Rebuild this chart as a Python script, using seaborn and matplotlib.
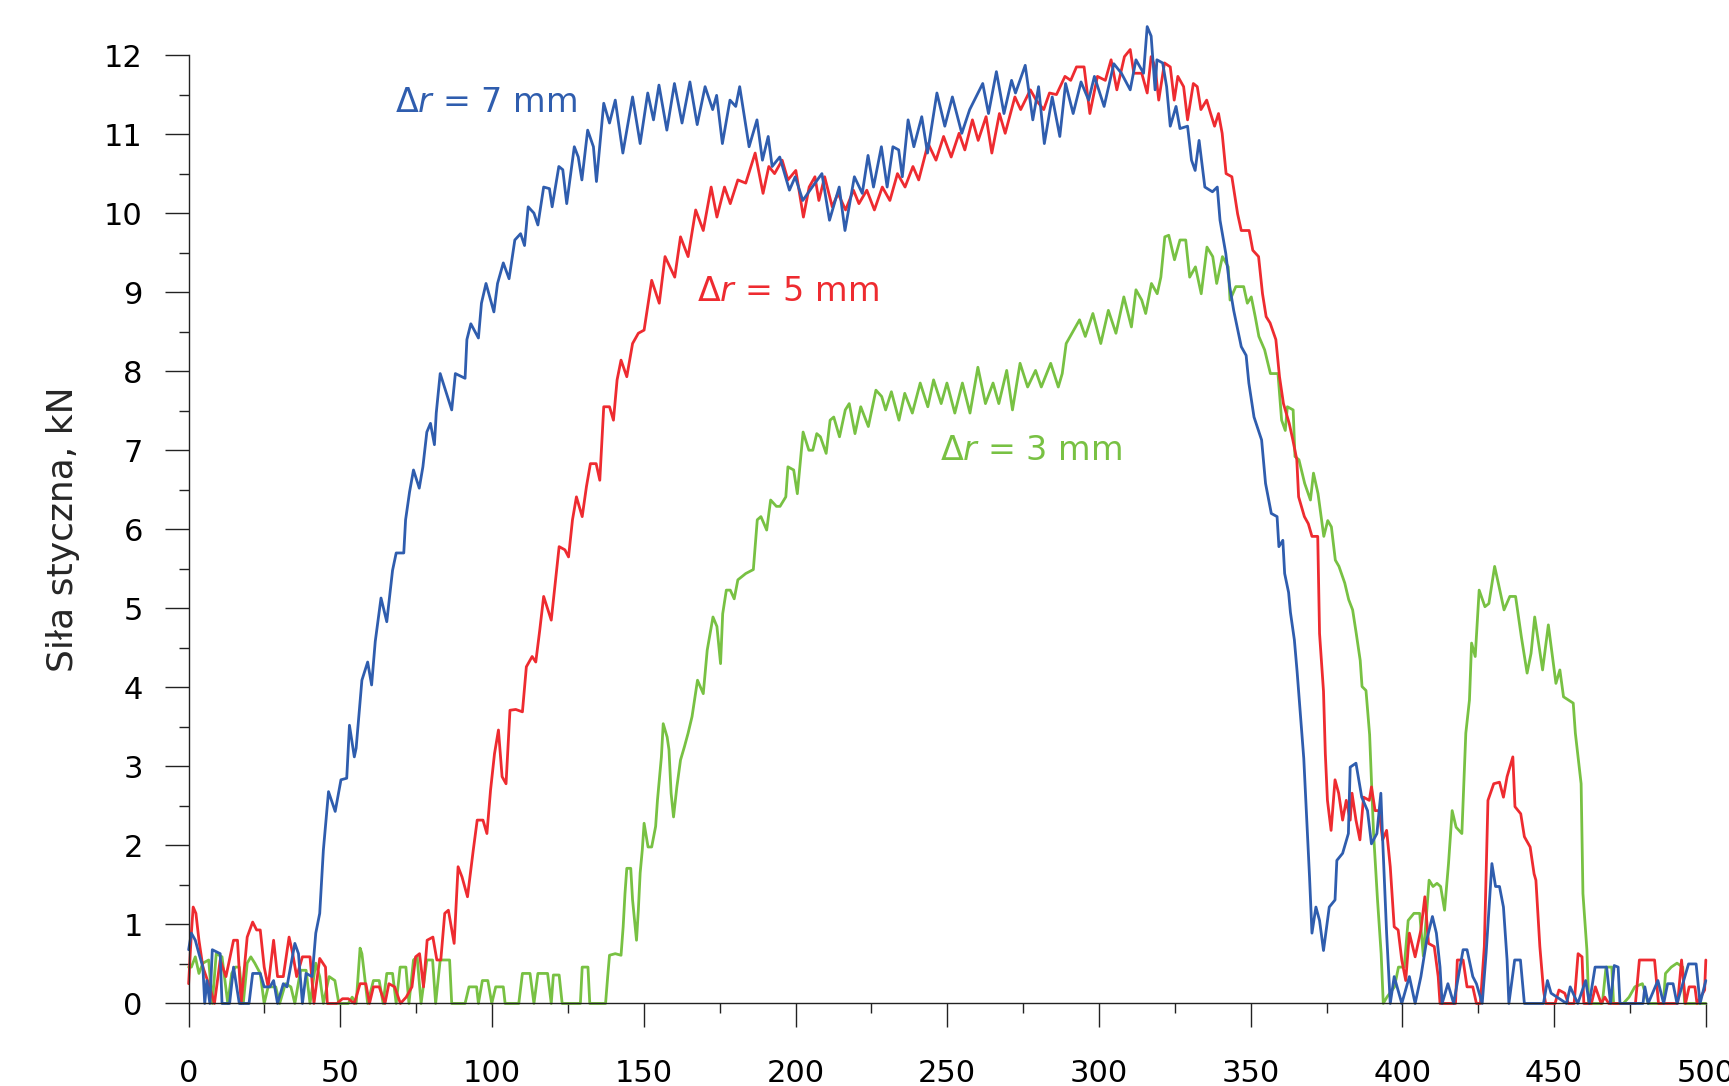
import numpy as np
import pandas as pd
import matplotlib
matplotlib.use('Agg')
import matplotlib.pyplot as plt
from matplotlib.ticker import MultipleLocator
import seaborn as sns

# ------------------------------------------------------------
# data (x in the original units, y in kN)
# ------------------------------------------------------------
blue_x = [0, 0.9, 2.2, 3.4, 4.7, 5.3, 6.0, 7.0, 7.8, 10.4, 11.0, 13.5, 14.8, 16.7, 19.9, 21.1, 23.6, 24.9,
          26.8, 28.0, 29.3, 31.2, 32.4, 35.0, 36.2, 37.5, 38.7, 40.7, 41.9, 43.2, 44.4, 46.1, 48.3, 50.2,
          52.1, 53.0, 54.6, 55.2, 57.1, 59.0, 60.3, 61.5, 63.4, 65.3, 67.2, 68.4, 70.9, 71.5, 72.8, 74.1,
          76.0, 77.2, 78.5, 79.7, 81.0, 81.6, 82.9, 84.8, 86.7, 87.9, 91.1, 91.7, 93.0, 95.5, 96.5, 98.0,
          100.6, 101.8, 103.7, 105.6, 107.5, 109.4, 110.7, 111.9, 113.8, 115.1, 117.0, 118.9, 119.8, 122.0,
          123.3, 124.6, 127.1, 128.4, 129.6, 131.5, 133.4, 134.4, 136.8, 138.7, 140.6, 143.1, 146.3, 148.8,
          151.3, 153.2, 155.0, 157.6, 160.1, 162.6, 165.2, 167.6, 170.2, 172.7, 174.0, 175.9, 178.4, 180.3,
          181.6, 184.7, 187.3, 189.1, 191.0, 192.3, 194.8, 198.0, 199.9, 202.4, 205.5, 208.7, 211.2, 214.4,
          216.3, 219.4, 222.0, 223.9, 225.7, 228.3, 230.2, 232.1, 234.0, 235.2, 237.1, 239.0, 241.6, 243.5,
          246.6, 249.2, 251.7, 254.8, 257.4, 261.7, 263.6, 266.2, 268.7, 271.2, 272.5, 275.7, 278.2, 280.1,
          282.0, 284.6, 287.1, 289.0, 291.5, 294.1, 296.6, 298.5, 301.7, 304.9, 307.4, 310.3, 312.2, 314.7,
          315.9, 317.2, 318.5, 319.1, 321.0, 322.3, 323.5, 325.4, 326.7, 329.2, 330.5, 331.7, 333.0, 334.9,
          337.4, 339.0, 339.9, 341.8, 343.1, 344.4, 346.9, 348.5, 349.4, 351.1, 353.6, 354.9, 356.8, 358.7,
          359.3, 360.6, 361.2, 362.5, 363.1, 364.4, 365.3, 366.3, 367.5, 368.4, 369.4, 370.2, 371.5, 372.7,
          374.0, 375.9, 377.8, 378.4, 380.3, 382.2, 382.8, 384.7, 386.6, 388.5, 389.8, 391.6, 392.9, 393.5,
          394.8, 396.0, 397.3, 399.8, 402.3, 404.2, 406.1, 408.0, 409.9, 411.2, 412.4, 413.1, 415.0, 416.9,
          420.0, 421.3, 423.2, 424.4, 426.3, 427.6, 429.5, 430.7, 432.0, 433.3, 434.5, 435.1, 437.0, 438.9,
          440.2, 446.5, 447.8, 449.0, 454.1, 455.3, 457.8, 460.4, 461.6, 463.5, 467.3, 468.6, 469.8, 471.1,
          471.7, 479.3, 479.9, 481.0, 484.2, 486.1, 487.4, 489.2, 490.5, 494.3, 496.8, 498.1, 500.0]
blue_y = [0.68, 0.89, 0.80, 0.63, 0.46, 0.0, 0.29, 0.0, 0.68, 0.63, 0.0, 0.0, 0.46, 0.0, 0.0, 0.38, 0.38, 0.21,
          0.21, 0.29, 0.0, 0.25, 0.21, 0.76, 0.63, 0.0, 0.38, 0.34, 0.89, 1.14, 1.94, 2.68, 2.43, 2.83,
          2.85, 3.52, 3.12, 3.23, 4.09, 4.32, 4.03, 4.58, 5.13, 4.83, 5.48, 5.70, 5.70, 6.12, 6.47, 6.75,
          6.52, 6.79, 7.23, 7.34, 7.07, 7.47, 7.97, 7.74, 7.51, 7.97, 7.91, 8.40, 8.60, 8.42, 8.86, 9.11,
          8.75, 9.11, 9.37, 9.17, 9.66, 9.74, 9.59, 10.08, 10.00, 9.85, 10.33, 10.31, 10.08, 10.59,
          10.55, 10.12, 10.84, 10.71, 10.42, 11.05, 10.84, 10.40, 11.39, 11.14, 11.43, 10.76, 11.47, 10.88,
          11.52, 11.18, 11.62, 11.05, 11.64, 11.14, 11.66, 11.12, 11.60, 11.31, 11.49, 10.88, 11.43, 11.35,
          11.60, 10.84, 11.18, 10.67, 10.97, 10.59, 10.71, 10.29, 10.46, 10.16, 10.33, 10.50, 9.91, 10.33,
          9.78, 10.46, 10.25, 10.73, 10.33, 10.84, 10.33, 10.84, 10.80, 10.46, 11.18, 10.84, 11.22, 10.76,
          11.52, 11.10, 11.47, 11.01, 11.31, 11.64, 11.26, 11.79, 11.26, 11.68, 11.52, 11.87, 11.18, 11.60,
          10.88, 11.47, 10.97, 11.64, 11.26, 11.66, 11.43, 11.73, 11.35, 11.89, 11.77, 11.56, 11.94, 11.77,
          12.36, 12.24, 11.56, 11.94, 11.90, 11.60, 11.10, 11.35, 11.07, 11.10, 10.67, 10.54, 10.92, 10.33,
          10.27, 10.33, 9.91, 9.49, 9.07, 8.77, 8.31, 8.20, 7.85, 7.42, 7.13, 6.58, 6.20, 6.16,
          5.78, 5.86, 5.44, 5.20, 4.95, 4.60, 4.20, 3.70, 3.10, 2.40, 1.60, 0.89, 1.22, 1.05,
          0.67, 1.22, 1.31, 1.81, 1.90, 2.15, 2.99, 3.04, 2.61, 2.44, 2.02, 2.15, 2.66, 2.07,
          0.89, 0.0, 0.34, 0.0, 0.34, 0.0, 0.34, 0.80, 1.10, 0.89, 0.46, 0.0, 0.25, 0.0,
          0.68, 0.68, 0.34, 0.25, 0.0, 0.64, 1.77, 1.48, 1.48, 1.22, 0.55, 0.0, 0.55, 0.55,
          0.0, 0.0, 0.29, 0.13, 0.0, 0.21, 0.0, 0.29, 0.0, 0.46, 0.46, 0.0, 0.48, 0.46,
          0.0, 0.0, 0.21, 0.0, 0.29, 0.0, 0.25, 0.25, 0.0, 0.50, 0.50, 0.0, 0.29]

red_x = [0, 0.9, 1.5, 2.4, 3.4, 4.7, 6.6, 8.5, 10.4, 12.3, 14.8, 16.1, 17.3, 19.3, 21.1, 22.4, 23.6, 24.9,
         26.2, 28.0, 29.3, 31.2, 33.1, 34.3, 35.6, 37.5, 40.0, 41.3, 43.2, 45.1, 45.7, 48.9, 50.7, 52.6,
         54.6, 56.5, 58.4, 59.6, 60.9, 62.8, 64.7, 66.0, 67.9, 69.8, 71.7, 73.6, 74.8, 76.1, 77.4, 78.6,
         80.5, 81.8, 83.1, 84.4, 85.6, 87.5, 88.8, 90.1, 91.9, 93.8, 95.1, 97.0, 98.3, 99.5, 100.8, 102.1,
         103.3, 104.6, 105.9, 107.8, 110.0, 111.3, 113.2, 114.4, 115.7, 117.0, 119.5, 120.8, 122.1, 124.0,
         125.2, 126.5, 127.8, 129.7, 131.1, 132.4, 134.3, 135.5, 136.8, 138.7, 140.0, 141.2, 142.5, 144.4,
         146.3, 148.2, 150.1, 152.6, 155.1, 157.0, 160.2, 162.1, 164.6, 167.1, 169.6, 172.2, 174.1, 176.6,
         178.5, 181.0, 183.6, 186.7, 189.3, 191.2, 193.1, 195.6, 197.5, 200.1, 202.6, 204.5, 206.4, 207.7,
         209.6, 212.1, 214.0, 216.5, 219.1, 220.9, 223.5, 226.0, 228.6, 231.1, 233.6, 236.1, 238.7, 240.6,
         243.7, 246.3, 248.8, 251.3, 253.9, 255.8, 258.3, 260.2, 262.8, 264.7, 267.2, 269.1, 272.3, 274.2,
         277.4, 279.3, 281.8, 283.7, 286.0, 288.8, 290.7, 292.6, 295.1, 297.0, 299.5, 302.1, 304.0, 305.9,
         308.4, 310.3, 311.5, 314.1, 315.9, 317.2, 318.5, 319.7, 321.6, 323.5, 324.8, 326.0, 327.9, 329.2,
         331.1, 332.4, 333.6, 335.5, 336.8, 338.1, 339.4, 340.6, 341.9, 343.8, 345.7, 346.9, 349.5, 350.7,
         352.6, 353.9, 355.1, 356.4, 358.3, 359.5, 360.8, 362.7, 363.9, 365.2, 365.8, 367.7, 369.0, 370.2,
         372.1, 372.7, 374.0, 374.6, 375.3, 376.5, 377.8, 379.0, 380.3, 381.5, 382.8, 383.4, 384.7, 386.0,
         387.2, 389.1, 389.8, 391.0, 392.3, 393.5, 394.8, 396.0, 397.3, 398.6, 399.8, 401.1, 402.3, 404.2,
         406.1, 407.4, 408.6, 410.5, 411.8, 412.4, 417.5, 418.1, 420.0, 421.3, 423.2, 424.4, 425.7, 427.0,
         428.2, 430.1, 432.0, 433.3, 434.5, 436.4, 437.1, 439.0, 440.2, 442.1, 443.4, 444.0, 445.3, 446.5,
         447.2, 450.3, 451.6, 453.5, 454.7, 456.6, 457.9, 459.2, 459.8, 462.3, 463.6, 465.5, 466.7, 468.0,
         476.8, 478.1, 483.1, 484.4, 490.7, 492.0, 493.3, 494.5, 496.4, 497.1, 499.6, 500.0]
red_y = [0.25, 0.89, 1.22, 1.14, 0.80, 0.46, 0.25, 0.0, 0.55, 0.34, 0.80, 0.80, 0.0, 0.84, 1.03, 0.93, 0.93, 0.46,
         0.21, 0.80, 0.34, 0.34, 0.84, 0.63, 0.34, 0.59, 0.59, 0.0, 0.57, 0.46, 0.0, 0.0, 0.06, 0.06,
         0.0, 0.25, 0.25, 0.0, 0.21, 0.21, 0.0, 0.25, 0.21, 0.0, 0.08, 0.21, 0.59, 0.63, 0.21, 0.80,
         0.84, 0.55, 0.55, 1.14, 1.18, 0.76, 1.73, 1.60, 1.35, 1.94, 2.32, 2.32, 2.15, 2.70, 3.16, 3.46,
         2.87, 2.78, 3.71, 3.72, 3.69, 4.26, 4.39, 4.32, 4.72, 5.15, 4.85, 5.32, 5.78, 5.74,
         5.65, 6.12, 6.41, 6.16, 6.54, 6.83, 6.83, 6.62, 7.55, 7.55, 7.38, 7.89, 8.14, 7.93,
         8.35, 8.48, 8.52, 9.15, 8.86, 9.45, 9.19, 9.70, 9.45, 10.04, 9.78, 10.33, 9.95, 10.33,
         10.12, 10.42, 10.38, 10.76, 10.25, 10.59, 10.50, 10.67, 10.42, 10.54, 9.95, 10.33, 10.46, 10.16,
         10.46, 10.08, 10.25, 10.04, 10.29, 10.12, 10.29, 10.04, 10.33, 10.16, 10.50, 10.33, 10.59, 10.42,
         10.88, 10.67, 10.97, 10.71, 11.01, 10.80, 11.18, 10.92, 11.22, 10.76, 11.26, 11.01, 11.47, 11.31,
         11.56, 11.43, 11.31, 11.52, 11.50, 11.73, 11.68, 11.85, 11.85, 11.26, 11.73, 11.68, 11.94, 11.56,
         11.98, 12.07, 11.77, 11.77, 11.52, 11.98, 11.85, 11.43, 11.90, 11.85, 11.43, 11.73, 11.60, 11.18,
         11.64, 11.60, 11.31, 11.43, 11.26, 11.10, 11.26, 11.01, 10.50, 10.46, 9.99, 9.78, 9.78, 9.53,
         9.45, 8.98, 8.69, 8.61, 8.40, 7.93, 7.59, 7.34, 7.13, 6.88, 6.41, 6.16, 6.07, 5.91,
         5.91, 4.68, 3.95, 3.16, 2.57, 2.19, 2.83, 2.66, 2.32, 2.57, 2.32, 2.66, 2.32, 2.07,
         2.61, 2.57, 2.74, 2.44, 2.44, 2.07, 2.19, 1.73, 0.97, 0.93, 0.55, 0.29, 0.89, 0.59,
         0.93, 1.35, 0.76, 0.72, 0.34, 0.0, 0.0, 0.55, 0.55, 0.21, 0.21, 0.0, 0.0, 0.72,
         2.57, 2.78, 2.80, 2.61, 2.87, 3.12, 2.49, 2.40, 2.11, 1.98, 1.64, 1.56, 0.72, 0.17,
         0.0, 0.0, 0.17, 0.13, 0.0, 0.0, 0.63, 0.59, 0.0, 0.0, 0.21, 0.0, 0.08, 0.0,
         0.0, 0.55, 0.55, 0.0, 0.0, 0.55, 0.0, 0.21, 0.21, 0.0, 0.17, 0.55]

green_x = [0, 0.9, 2.2, 3.4, 4.7, 6.6, 7.8, 9.1, 11.0, 12.9, 14.2, 15.4, 16.7, 18.0, 19.3, 20.5, 21.8, 23.6,
           24.9, 26.2, 28.7, 30.0, 31.9, 33.7, 35.0, 36.9, 38.7, 40.0, 41.9, 43.2, 44.4, 46.3, 48.2, 49.5,
           52.6, 53.9, 55.2, 56.5, 57.1, 58.0, 59.0, 60.9, 62.8, 64.1, 65.3, 67.2, 68.4, 69.7, 71.6, 72.6,
           74.1, 75.3, 76.6, 78.5, 80.4, 81.4, 82.9, 86.0, 86.7, 91.1, 92.4, 94.9, 95.5, 96.8, 98.6, 99.9,
           101.2, 103.7, 104.3, 108.8, 110.0, 112.5, 113.8, 115.1, 118.3, 119.5, 120.2, 122.1, 123.1, 129.1,
           129.7, 131.6, 132.2, 137.4, 138.1, 138.7, 140.6, 142.5, 143.2, 143.8, 144.4, 145.7, 146.3, 147.6,
           148.2, 148.8, 149.5, 150.1, 151.4, 152.6, 153.9, 154.5, 155.8, 156.4, 157.7, 158.3, 159.0, 159.8,
           160.9, 162.1, 163.4, 164.6, 165.9, 167.7, 169.6, 170.9, 172.8, 174.1, 175.3, 176.0, 177.2, 178.5,
           179.8, 181.0, 183.6, 186.1, 187.4, 188.6, 190.5, 191.8, 193.7, 194.9, 196.8, 197.5, 199.4, 200.6,
           202.5, 204.4, 205.7, 207.0, 208.2, 210.1, 211.4, 212.6, 214.5, 216.4, 217.7, 219.6, 221.5, 224.0,
           226.5, 228.4, 229.7, 231.6, 234.1, 236.0, 238.5, 241.1, 243.6, 245.5, 248.0, 249.9, 252.5, 255.0,
           257.5, 260.1, 262.6, 265.1, 267.0, 269.6, 271.5, 274.0, 276.5, 279.1, 281.0, 284.1, 286.6, 287.9,
           289.2, 291.1, 293.6, 295.5, 298.0, 300.6, 303.1, 305.6, 308.2, 310.7, 312.2, 314.1, 315.4, 317.3,
           319.2, 320.4, 321.7, 323.0, 324.9, 326.7, 328.6, 329.9, 331.8, 333.7, 335.6, 337.5, 338.8, 340.7,
           342.6, 343.2, 345.1, 347.7, 348.9, 350.2, 351.5, 352.7, 354.6, 356.5, 359.0, 360.2, 361.4, 362.1,
           364.0, 364.6, 365.9, 367.8, 369.7, 370.7, 372.2, 373.4, 374.1, 375.4, 376.6, 377.9, 379.1, 381.0,
           382.3, 383.6, 384.8, 386.1, 386.7, 388.0, 389.2, 390.5, 391.8, 393.0, 393.7, 394.9, 397.4, 398.7,
           400.6, 401.9, 403.8, 405.7, 406.9, 408.8, 410.1, 411.4, 412.6, 413.9, 415.2, 416.4, 417.7, 419.6,
           420.9, 422.1, 422.8, 424.0, 425.3, 427.2, 428.5, 429.7, 430.4, 431.6, 433.5, 435.4, 437.3, 439.2,
           441.1, 442.4, 443.6, 446.2, 448.1, 450.6, 451.9, 453.1, 456.3, 457.0, 458.9, 459.5, 460.8, 461.4,
           465.9, 467.1, 469.0, 469.6, 472.8, 474.7, 476.6, 479.1, 481.0, 486.0, 486.7, 488.6, 490.5, 492.4,
           493.0, 500.0]
green_y = [0.46, 0.46, 0.59, 0.38, 0.51, 0.55, 0.0, 0.63, 0.59, 0.0, 0.38, 0.46, 0.46, 0.0, 0.51, 0.59, 0.51, 0.38,
           0.0, 0.21, 0.21, 0.0, 0.25, 0.21, 0.0, 0.42, 0.42, 0.0, 0.51, 0.34, 0.0, 0.34, 0.29, 0.0,
           0.0, 0.08, 0.0, 0.70, 0.63, 0.34, 0.0, 0.29, 0.29, 0.0, 0.38, 0.38, 0.0, 0.46, 0.46, 0.0,
           0.55, 0.59, 0.0, 0.55, 0.55, 0.0, 0.55, 0.55, 0.0, 0.0, 0.21, 0.21, 0.0, 0.29, 0.29, 0.0,
           0.21, 0.21, 0.0, 0.0, 0.38, 0.38, 0.0, 0.38, 0.38, 0.0, 0.36, 0.36, 0.0, 0.0,
           0.46, 0.46, 0.0, 0.0, 0.34, 0.61, 0.63, 0.61, 0.97, 1.39, 1.71, 1.71, 1.31, 0.80,
           1.18, 1.65, 1.94, 2.28, 1.98, 1.98, 2.24, 2.57, 3.12, 3.54, 3.37, 3.21, 2.66, 2.36,
           2.74, 3.08, 3.25, 3.42, 3.63, 4.09, 3.92, 4.47, 4.89, 4.77, 4.30, 4.93, 5.23, 5.23,
           5.12, 5.36, 5.44, 5.49, 6.12, 6.16, 5.99, 6.37, 6.29, 6.29, 6.41, 6.79, 6.75, 6.45,
           7.23, 7.00, 7.00, 7.21, 7.17, 6.96, 7.38, 7.42, 7.17, 7.51, 7.59, 7.21, 7.55, 7.30,
           7.76, 7.68, 7.51, 7.74, 7.38, 7.72, 7.47, 7.85, 7.55, 7.89, 7.59, 7.85, 7.47, 7.85,
           7.47, 8.05, 7.59, 7.85, 7.59, 8.01, 7.51, 8.10, 7.80, 8.01, 7.80, 8.10, 7.80, 7.97,
           8.35, 8.48, 8.65, 8.44, 8.73, 8.35, 8.77, 8.48, 8.94, 8.56, 9.03, 8.90, 8.73, 9.11,
           8.98, 9.19, 9.70, 9.72, 9.41, 9.66, 9.66, 9.19, 9.32, 8.98, 9.57, 9.45, 9.11, 9.45,
           9.32, 8.90, 9.07, 9.07, 8.86, 8.94, 8.69, 8.44, 8.27, 7.97, 7.97, 7.38, 7.25, 7.55,
           7.51, 6.92, 6.88, 6.58, 6.37, 6.71, 6.45, 6.11, 5.91, 6.11, 6.03, 5.61, 5.53, 5.32,
           5.11, 4.98, 4.68, 4.34, 4.01, 3.96, 3.40, 2.15, 1.31, 0.63, 0.0, 0.08, 0.21, 0.46,
           0.46, 1.05, 1.14, 1.14, 0.60, 1.56, 1.48, 1.52, 1.48, 1.18, 1.77, 2.44, 2.23, 2.15,
           3.42, 3.84, 4.56, 4.39, 5.23, 5.02, 5.06, 5.36, 5.53, 5.32, 4.98, 5.15, 5.15, 4.64,
           4.18, 4.43, 4.89, 4.22, 4.79, 4.05, 4.22, 3.88, 3.80, 3.42, 2.78, 1.39, 0.68, 0.0,
           0.0, 0.46, 0.46, 0.0, 0.0, 0.08, 0.21, 0.25, 0.0, 0.0, 0.38, 0.46, 0.51, 0.46,
           0.0, 0.0]

series_colors = ['#2f5dae', '#ee2b30', '#78c143']
label_text = ['\u0394$\\mathit{r}$ = 7 mm', '\u0394$\\mathit{r}$ = 5 mm', '\u0394$\\mathit{r}$ = 3 mm']
label_x = [68, 167.5, 247.5]
label_y = [11.40, 9.01, 7.00]

x_ticks = [0, 50, 100, 150, 200, 250, 300, 350, 400, 450, 500]
y_ticks = list(range(0, 13))
y_label = 'Siła styczna, kN'

# ------------------------------------------------------------
sns.set_style('ticks')
plt.rcParams['font.family'] = ['DejaVu Sans']
plt.rcParams['mathtext.fontset'] = 'dejavusans'

fig = plt.figure(figsize=(17.29, 10.86), dpi=100)
ax = fig.add_axes([0.1091, 0.0760, 0.8775, 0.8733])

for xs, ys, c in zip([green_x, red_x, blue_x], [green_y, red_y, blue_y], series_colors[::-1]):
    sns.lineplot(x=xs, y=ys, color=c, linewidth=2.0, estimator=None, sort=False, ax=ax)
for line in ax.lines:
    line.set_clip_on(False)

for t, x, y, c in zip(label_text, label_x, label_y, series_colors):
    ax.text(x, y, t, color=c, fontsize=24, ha='left', va='center')

ax.set_xlim(0, 500)
ax.set_ylim(0, 12)
ax.set_xticks(x_ticks)
ax.set_yticks(y_ticks)
ax.xaxis.set_minor_locator(MultipleLocator(25))
ax.yaxis.set_minor_locator(MultipleLocator(0.5))
ax.tick_params(axis='both', which='major', direction='out', length=17, width=1.0,
               labelsize=22, colors='#222222', labelcolor='black')
ax.tick_params(axis='both', which='minor', direction='out', length=7, width=1.0, colors='#222222')
ax.tick_params(axis='y', which='major', pad=16)
ax.tick_params(axis='x', which='major', pad=23)

sns.despine(ax=ax)
for s in ['left', 'bottom']:
    ax.spines[s].set_linewidth(1.0)
    ax.spines[s].set_color('#222222')

ax.set_ylabel(y_label, fontsize=26)
ax.yaxis.set_label_coords(-0.0716, 0.5)

fig.savefig('out.png', dpi=100, facecolor='white')
